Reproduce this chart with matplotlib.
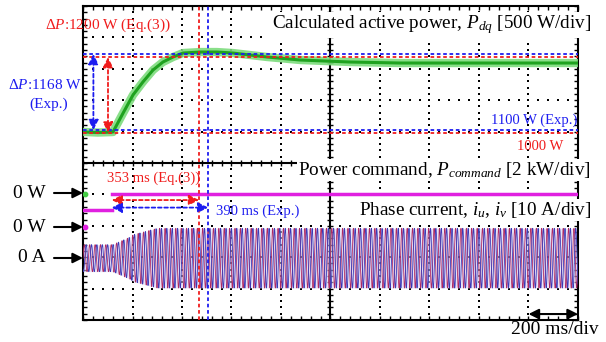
import numpy as np
import matplotlib.pyplot as plt

plt.rcParams['font.family'] = ['Liberation Serif', 'DejaVu Serif']
plt.rcParams['mathtext.fontset'] = 'custom'
plt.rcParams['mathtext.rm'] = 'Liberation Serif'
plt.rcParams['mathtext.it'] = 'Liberation Serif:italic'

# scope settings
time_div_ms = 200
p_dq_w_div = 500
p_cmd_w_div = 2000
i_a_div = 10

# channel zero positions, in divisions from screen centre
p_dq_offset = -1.03
p_cmd_offset = -0.985
i_offset = -3.03

# calculated active power P_dq
p_dq_t = [0, 60, 121, 162, 202, 242, 283, 323, 364, 404, 473, 541, 606, 743, 877, 1079, 1281, 1685, 2000]
p_dq_w = [1010, 1000, 1008, 1310, 1598, 1805, 1996, 2123, 2203, 2266, 2282, 2282, 2266, 2203, 2155, 2123, 2107, 2107, 2107]

# power command step
cmd_step_ms = 116
cmd_before_w = -1000
cmd_after_w = 0

# phase current envelope and frequency
i_env_t = [0, 120, 190, 205, 300, 2000]
i_env_a = [4.3, 4.3, 6.7, 7.5, 9.5, 9.5]
i_freq_hz = 46

# annotation levels
red_levels_w = [1000, 2200]
blue_levels_w = [1040, 2250]
t_eq_ms = 353
t_exp_ms = 390

RED = '#f01c1c'
BLUE = '#1c1cf0'
DASH = (0, (2, 1.5))

W, H = 606, 342


def fpx(x, y):
    # figure fraction from top-left pixel position
    return (x / W, 1 - y / H)


fig = plt.figure(figsize=(W / 100, H / 100), dpi=100)
ax = fig.add_axes([83 / W, 22 / H, 495 / W, 314 / H])
xmax = 10 * time_div_ms
ax.set_xlim(0, xmax)
ax.set_ylim(-5, 5)

# graticule
x_minor = np.arange(0, xmax + 1, time_div_ms / 5)
y_minor = np.arange(-5, 5.01, 0.2)
ax.set_xticks(x_minor)
ax.set_yticks(y_minor)
ax.tick_params(direction='in', length=3, width=1, top=True, right=True,
               labelbottom=False, labelleft=False)
for s in ax.spines.values():
    s.set_linewidth(1.5)

for x in np.arange(time_div_ms, xmax, time_div_ms):
    if x == xmax / 2:
        continue
    ax.scatter(np.full(len(y_minor), x), y_minor, s=2, marker='s', color='k', lw=0, zorder=1)
for y in range(-4, 5):
    if y == 0:
        continue
    ax.scatter(x_minor, np.full(len(x_minor), y), s=2, marker='s', color='k', lw=0, zorder=1)

ax.axhline(0, color='k', lw=1.5, zorder=1)
ax.axvline(xmax / 2, color='k', lw=1.5, zorder=1)
ax.plot(x_minor, np.zeros(len(x_minor)), ls='none', marker='|', ms=5, mew=1, color='k', zorder=1)
ax.plot(np.full(len(y_minor), xmax / 2), y_minor, ls='none', marker='_', ms=5, mew=1, color='k', zorder=1)

# P_dq trace
p_y = np.array(p_dq_w) / p_dq_w_div + p_dq_offset
ax.plot(p_dq_t, p_y, color='#7ddc7d', lw=6, alpha=0.9, zorder=3)
ax.plot(p_dq_t, p_y, color='#1fa21f', lw=2.2, zorder=3)

# power command trace
cmd_zero = cmd_after_w / p_cmd_w_div + p_cmd_offset
ax.plot([0, cmd_step_ms], [cmd_before_w / p_cmd_w_div + p_cmd_offset] * 2, color='#e020e0', lw=2.5, zorder=3)
ax.plot([cmd_step_ms, xmax], [cmd_zero] * 2, color='#e020e0', lw=2.5, zorder=3)

# channel ground markers at the left edge
ax.scatter([8], [cmd_zero], s=10, color='#44cc44', zorder=4)
ax.scatter([8], [-2.04], s=10, color='#e020e0', zorder=4)

# phase currents
t = np.linspace(0, xmax, 12001)
env = np.interp(t, i_env_t, i_env_a)
ph = 2 * np.pi * i_freq_hz * t / 1000
iu = env * np.sin(ph) / i_a_div + i_offset
iv = env * np.sin(ph - 2 * np.pi / 3) / i_a_div + i_offset
ax.fill_between(t, i_offset - env / i_a_div, i_offset + env / i_a_div, color='#d8cdf0', alpha=0.55, lw=0, zorder=2)
ax.plot(t, iu, color='#b02a62', lw=0.6, zorder=3)
ax.plot(t, iv, color='#3a3ab8', lw=0.6, zorder=3)

# dashed reference lines
for w in red_levels_w:
    ax.axhline(w / p_dq_w_div + p_dq_offset, color=RED, lw=1.3, ls=DASH, zorder=4)
for w in blue_levels_w:
    ax.axhline(w / p_dq_w_div + p_dq_offset, color=BLUE, lw=1.3, ls=DASH, zorder=4)
ax.axvline(cmd_step_ms + t_eq_ms, color=RED, lw=1.3, ls=DASH, zorder=4)
ax.axvline(cmd_step_ms + t_exp_ms, color=BLUE, lw=1.3, ls=DASH, zorder=4)


def darrow(x0, y0, x1, y1, color):
    ax.annotate('', xy=(x1, y1), xytext=(x0, y0),
                arrowprops=dict(arrowstyle='<|-|>,head_length=0.6,head_width=0.3',
                                color=color, lw=1.3, ls=DASH, shrinkA=0, shrinkB=0),
                zorder=5)


rb, rt = [w / p_dq_w_div + p_dq_offset for w in red_levels_w]
bb, bt = [w / p_dq_w_div + p_dq_offset for w in blue_levels_w]
darrow(42, bb, 42, bt, BLUE)
darrow(101, rb, 101, rt, RED)
darrow(cmd_step_ms, -1.18, cmd_step_ms + t_eq_ms, -1.18, RED)
darrow(cmd_step_ms, -1.42, cmd_step_ms + t_exp_ms, -1.42, BLUE)

# texts inside the screen
ax.text(287, -0.48, '353 ms (Eq.(3))', color=RED, fontsize=10.5, ha='center', va='center')
ax.text(707, -1.53, '390 ms (Exp.)', color=BLUE, fontsize=10.5, ha='center', va='center')
ax.text(1996, 1.37, '1100 W (Exp.)', color=BLUE, fontsize=10.5, ha='right', va='center')
ax.text(1846, 0.54, '1000 W', color=RED, fontsize=10.5, ha='center', va='center')

box = dict(facecolor='white', edgecolor='none', pad=1)
fig.text(*fpx(591, 25), 'Calculated active power, $P_{dq}$ [500 W/div]', fontsize=13.8,
         ha='right', va='center', bbox=box, zorder=10)
fig.text(*fpx(591, 170), 'Power command, $P_{command}$ [2 kW/div]', fontsize=13.8,
         ha='right', va='center', bbox=box, zorder=10)
fig.text(*fpx(591, 210), 'Phase current, $i_u$, $i_v$ [10 A/div]', fontsize=13.8,
         ha='right', va='center', bbox=box, zorder=10)

fig.text(*fpx(45, 25), r'$\mathit{\Delta P}$:1200 W (Eq.(3))', color=RED, fontsize=11, ha='left', va='center')
fig.text(*fpx(82, 85), r'$\mathit{\Delta P}$:1168 W', color=BLUE, fontsize=11, ha='right', va='center')
fig.text(*fpx(49, 104), '(Exp.)', color=BLUE, fontsize=11, ha='center', va='center')

for lab, y in [('0 W', 193), ('0 W', 227), ('0 A', 258)]:
    fig.text(*fpx(46, y), lab, fontsize=14, ha='right', va='center')
    ax.annotate('', xy=fpx(83, y), xycoords='figure fraction', xytext=fpx(54, y),
                textcoords='figure fraction', annotation_clip=False,
                arrowprops=dict(arrowstyle='-|>,head_length=0.6,head_width=0.3',
                                color='k', lw=1.5, shrinkA=0, shrinkB=0))

ax.annotate('', xy=(xmax, -4.81), xytext=(xmax - time_div_ms, -4.81),
            arrowprops=dict(arrowstyle='<|-|>,head_length=0.6,head_width=0.3',
                            color='k', lw=1.5, shrinkA=0, shrinkB=0), zorder=6)
fig.text(*fpx(555, 330), '200 ms/div', fontsize=14, ha='center', va='center')

fig.savefig('out.png', dpi=100)
